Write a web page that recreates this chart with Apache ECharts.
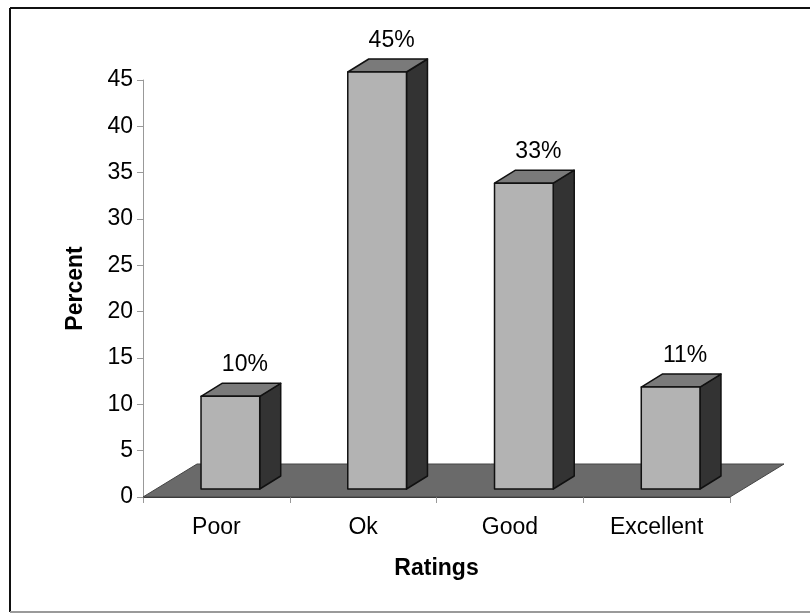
<!DOCTYPE html>
<html>
<head>
<meta charset="utf-8">
<script src="https://cdn.jsdelivr.net/npm/echarts@6/dist/echarts.min.js"></script>
<style>
  html, body { margin: 0; padding: 0; background: #fff; }
  #chart { width: 810px; height: 615px; }
</style>
</head>
<body>
<div id="chart"></div>
<script>
// Survey ratings, share of respondents in percent
const categories = ['Poor', 'Ok', 'Good', 'Excellent'];
const percents = [10, 45, 33, 11];
const valueLabels = ['10%', '45%', '33%', '11%'];

const yMin = 0, yMax = 45, yStep = 5;

// Pseudo-3D look: depth of the floor and of each column (pixels)
const FLOOR_DX = 54, FLOOR_DY = -33;
const BAR_DX = 21, BAR_DY = -13;
const BAR_LIFT = 8, BAR_SHIFT = 14, BAR_RATIO = 0.4;

const FONT = '"Liberation Sans", Arial, sans-serif';

const chart = echarts.init(document.getElementById('chart'));

const option = {
  backgroundColor: '#ffffff',
  animation: false,
  graphic: [
    { type: 'line', shape: { x1: 10, y1: 8, x2: 810, y2: 8 }, style: { stroke: '#111', lineWidth: 2 } },
    { type: 'line', shape: { x1: 10, y1: 8, x2: 10, y2: 612 }, style: { stroke: '#111', lineWidth: 2 } },
    { type: 'line', shape: { x1: 10, y1: 612, x2: 810, y2: 612 }, style: { stroke: '#9a9a9a', lineWidth: 2 } }
  ],
  grid: { left: 143, right: 80, top: 80, bottom: 118 },
  xAxis: {
    type: 'category',
    data: categories,
    name: 'Ratings',
    nameLocation: 'middle',
    nameGap: 60,
    nameTextStyle: { fontFamily: FONT, fontSize: 23, fontWeight: 'bold', color: '#000' },
    axisLine: { show: true, lineStyle: { color: '#333', width: 1 } },
    axisTick: { show: true, length: 6, lineStyle: { color: '#999' } },
    axisLabel: { fontFamily: FONT, fontSize: 23, color: '#000', margin: 19 },
    splitLine: { show: false }
  },
  yAxis: {
    type: 'value',
    min: yMin, max: yMax, interval: yStep,
    name: 'Percent',
    nameLocation: 'middle',
    nameGap: 56,
    nameRotate: 90,
    nameTextStyle: { fontFamily: FONT, fontSize: 23, fontWeight: 'bold', color: '#000' },
    axisLine: { show: true, lineStyle: { color: '#999', width: 1 } },
    axisTick: { show: true, length: 6, lineStyle: { color: '#999' } },
    axisLabel: { fontFamily: FONT, fontSize: 23, color: '#000', margin: 10 },
    splitLine: { show: false }
  },
  series: [
    {
      // floor plane under the columns
      type: 'custom',
      name: 'floor',
      z: 1,
      silent: true,
      data: [[0, 0]],
      renderItem(params, api) {
        const cs = params.coordSys;
        const y0 = api.coord([0, yMin])[1];
        const xl = cs.x, xr = cs.x + cs.width;
        return {
          type: 'polygon',
          shape: { points: [[xl, y0], [xr, y0], [xr + FLOOR_DX, y0 + FLOOR_DY], [xl + FLOOR_DX, y0 + FLOOR_DY]] },
          style: { fill: '#6a6a6a', stroke: '#444', lineWidth: 1 }
        };
      }
    },
    {
      type: 'custom',
      name: 'Percent',
      z: 3,
      data: percents.map((v, i) => [i, v]),
      renderItem(params, api) {
        const i = api.value(0), v = api.value(1);
        const base = api.coord([i, 0]);
        const top = api.coord([i, v]);
        const w = api.size([1, 0])[0] * BAR_RATIO;
        const x0 = base[0] + BAR_SHIFT - w / 2, x1 = x0 + w;
        const yb = base[1] - BAR_LIFT, yt = top[1] - BAR_LIFT;
        const edge = { stroke: '#111', lineWidth: 1.5, lineJoin: 'round' };
        return {
          type: 'group',
          children: [
            { type: 'polygon', shape: { points: [[x1, yt], [x1 + BAR_DX, yt + BAR_DY], [x1 + BAR_DX, yb + BAR_DY], [x1, yb]] },
              style: Object.assign({ fill: '#333333' }, edge) },
            { type: 'polygon', shape: { points: [[x0, yt], [x0 + BAR_DX, yt + BAR_DY], [x1 + BAR_DX, yt + BAR_DY], [x1, yt]] },
              style: Object.assign({ fill: '#7a7a7a' }, edge) },
            { type: 'rect', shape: { x: x0, y: yt, width: w, height: yb - yt },
              style: Object.assign({ fill: '#b3b3b3' }, edge) },
            { type: 'text',
              style: { x: (x0 + x1) / 2 + BAR_DX / 2 + 4, y: yt + BAR_DY - 7, text: valueLabels[params.dataIndex],
                       align: 'center', verticalAlign: 'bottom', fill: '#000', font: '23px ' + FONT } }
          ]
        };
      }
    }
  ]
};

chart.setOption(option);
</script>
</body>
</html>
